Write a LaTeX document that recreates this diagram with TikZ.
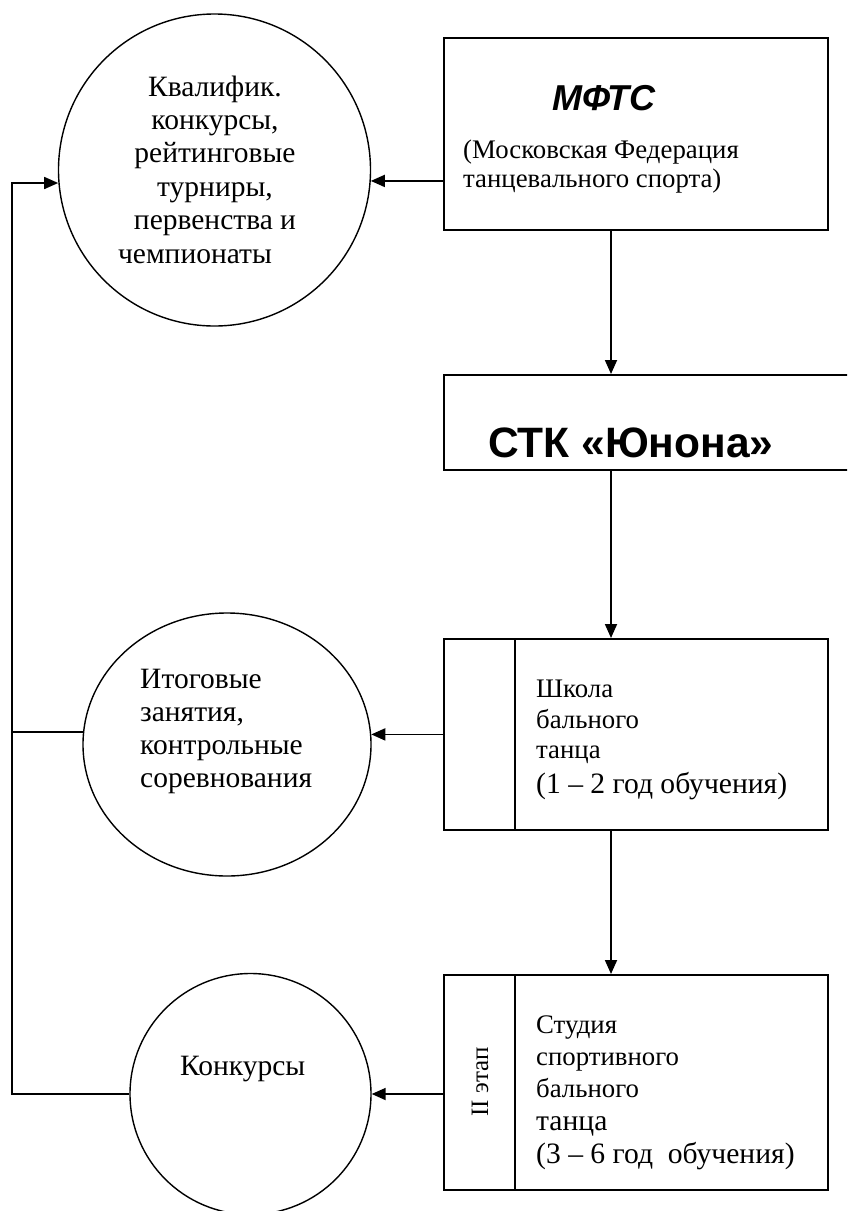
\documentclass[tikz,border=0pt]{standalone}
\usepackage{fontspec}
\setmainfont{Liberation Serif}
\newfontfamily\arialf{Liberation Sans}
\usetikzlibrary{arrows.meta,shapes.geometric}
\begin{document}
\begin{tikzpicture}[x=1pt,y=-1pt,
  boxst/.style={draw,line width=2pt,rectangle,inner sep=0pt},
  circst/.style={draw,line width=1.4pt,circle,inner sep=0pt},
  ellst/.style={draw,line width=1.4pt,ellipse,inner sep=0pt},
  arr/.style={line width=1.8pt,-{Triangle[length=14pt,width=12pt]}},
  ln/.style={line width=1.6pt},
  ctx/.style={inner sep=0pt,anchor=base,font=\fontsize{29.5}{33}\selectfont},
  ltx/.style={inner sep=0pt,anchor=base west,font=\fontsize{29.5}{33}\selectfont},
  btx/.style={inner sep=0pt,anchor=base west,font=\fontsize{26.8}{30}\selectfont},
  bbtx/.style={inner sep=0pt,anchor=base west,font=\fontsize{29.6}{32}\selectfont}]
\useasboundingbox (0,0) rectangle (847,1211);
\clip (0,0) rectangle (847,1211);
% circles
\node[circst,minimum size=312pt] (c1) at (214.5,170) {};
\node[ellst,minimum width=288pt,minimum height=263pt] (c2) at (227,744.5) {};
\node[circst,minimum size=241pt] (c3) at (250.5,1094) {};
% boxes
\node[boxst,minimum width=384pt,minimum height=192pt,anchor=north west] (b1) at (443,37) {};
\node[boxst,minimum width=440pt,minimum height=95pt,anchor=north west] (b2) at (443,374) {};
\node[boxst,minimum width=384pt,minimum height=191pt,anchor=north west] (b3) at (443,638) {};
\node[boxst,minimum width=384pt,minimum height=215pt,anchor=north west] (b5) at (443,974) {};
\coordinate (dv) at (515,0);
\draw[line width=2pt] (b3.north -| dv) -- (b3.south -| dv);
\draw[line width=2pt] (b5.north -| dv) -- (b5.south -| dv);
% vertical arrows
\coordinate (ax) at (611,0);
\draw[arr] (b1.south -| ax) -- (b2.north -| ax);
\draw[arr] (b2.south -| ax) -- (b3.north -| ax);
\draw[arr] (b3.south -| ax) -- (b5.north -| ax);
% horizontal arrows
\draw[arr] (b1.west |- c1.-4.8) -- (c1.-4.8);
\draw[arr] (b3.west |- c2.4.2) -- (c2.4.2);
\draw[arr] (b5.west |- c3.east) -- (c3.east);
% left feedback line
\coordinate (lt) at (12,183);
\draw[arr,line width=1.6pt] (c3.west) -| (lt) -- (lt -| c1.184.8);
\draw[ln] (c2.175.8) -- (c2.175.8 -| lt);
% circle 1 text
\node[ctx] (q1) at (215,96) {Квалифик.};
\node[ctx] (q2) at (215,129.4) {конкурсы,};
\node[ctx] (q3) at (215,162.8) {рейтинговые};
\node[ctx] (q4) at (215,196.2) {турниры,};
\node[ctx] (q5) at (215,229.6) {первенства и};
\node[ctx] (q6) at (195,263) {чемпионаты};
% circle 2 text
\node[ltx] (r1) at (140,688) {Итоговые};
\node[ltx] (r2) at (140,721) {занятия,};
\node[ltx] (r3) at (140,754) {контрольные};
\node[ltx] (r4) at (140,787) {соревнования};
% circle 3 text
\node[ltx] (s1) at (180,1075) {Конкурсы};
% box 1 text
\node[inner sep=0pt,anchor=base,font=\arialf\bfseries\itshape\fontsize{36}{36}\selectfont] (m1) at (604,110) {МФТС};
\node[btx] (m2) at (463,158) {(Московская Федерация};
\node[btx] (m3) at (463,187) {танцевального спорта)};
% box 2 text
\node[inner sep=0pt,anchor=base west,font=\arialf\bfseries\fontsize{42.5}{42.5}\selectfont] (k1) at (488,457) {СТК «Юнона»};
% box 3 text
\node[btx] (w1) at (536,697) {Школа};
\node[btx] (w2) at (536,728) {бального};
\node[btx] (w3) at (536,758) {танца};
\node[bbtx] (w4) at (536,793) {(1 – 2 год обучения)};
% box 5 text
\node[inner sep=0pt,rotate=90,font=\fontsize{25}{25}\selectfont] (e0) at (480,1082) {II этап};
\node[btx] (e1) at (536,1033) {Студия};
\node[btx] (e2) at (536,1065) {спортивного};
\node[btx] (e3) at (536,1097) {бального};
\node[bbtx] (e4) at (536,1130) {танца};
\node[bbtx] (e5) at (536,1163) {(3 – 6 год\ \ обучения)};
\end{tikzpicture}
\end{document}
